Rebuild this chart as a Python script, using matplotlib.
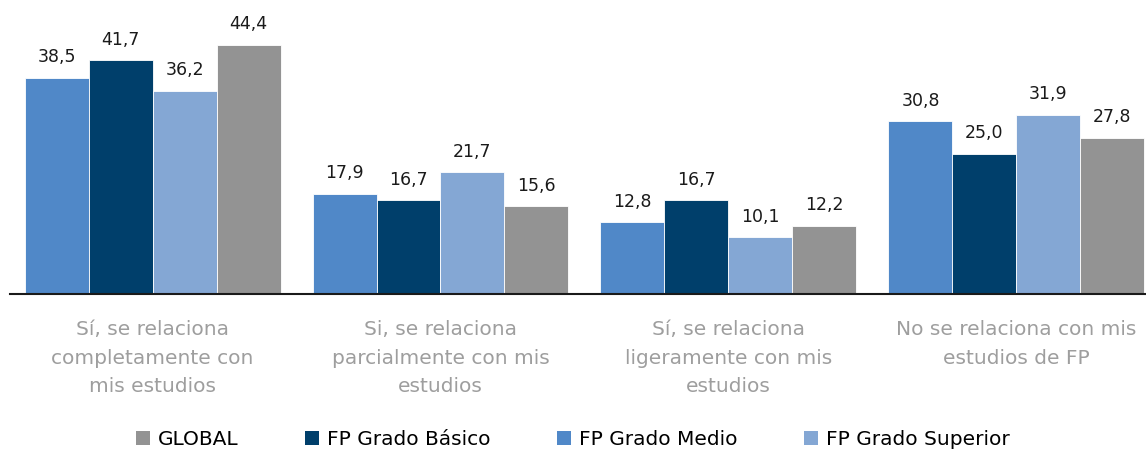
import matplotlib.pyplot as plt
import numpy as np
from matplotlib.patches import Patch

plt.rcParams['font.family'] = ['DejaVu Sans']

# Datos por categoría de relación con los estudios (%)
categorias = ['Sí, se relaciona\ncompletamente con\nmis estudios',
              'Si, se relaciona\nparcialmente con mis\nestudios',
              'Sí, se relaciona\nligeramente con mis\nestudios',
              'No se relaciona con mis\nestudios de FP']
fp_medio = [38.5, 17.9, 12.8, 30.8]
fp_basico = [41.7, 16.7, 16.7, 25.0]
fp_superior = [36.2, 21.7, 10.1, 31.9]
global_ = [44.4, 15.6, 12.2, 27.8]

series = [('FP Grado Medio', fp_medio, '#5088c8'),
          ('FP Grado Básico', fp_basico, '#003f6b'),
          ('FP Grado Superior', fp_superior, '#84a7d4'),
          ('GLOBAL', global_, '#939393')]

fig = plt.figure(figsize=(11.46, 4.49), dpi=100)
ax = fig.add_axes([10 / 1146, 155 / 449, 1 - 10 / 1146, 294 / 449])

x = np.arange(len(categorias))
w = 0.2222
for i, (nombre, vals, color) in enumerate(series):
    pos = x + (i - 1.5) * w
    bars = ax.bar(pos, vals, width=w, color=color, edgecolor='white', linewidth=0.6)
    for b, v in zip(bars, vals):
        ax.annotate(f'{v:.1f}'.replace('.', ','), (b.get_x() + b.get_width() / 2, v),
                    xytext=(0, 8.3), textcoords='offset points', ha='center', va='bottom',
                    fontsize=12.5, color='#1a1a1a')

ax.set_xlim(-0.495, 3.45)
ax.set_ylim(0, 52.4)
for s in ['top', 'right', 'left']:
    ax.spines[s].set_visible(False)
ax.spines['bottom'].set_color('#1a1a1a')
ax.spines['bottom'].set_linewidth(1.5)
ax.set_yticks([])
ax.set_xticks(x)
ax.set_xticklabels(categorias, fontsize=14.5, color='#9e9e9e', linespacing=1.62)
ax.tick_params(axis='x', length=0, pad=19)

# Leyenda en el orden de la figura
orden = [3, 1, 0, 2]
handles = [Patch(facecolor=series[i][2], label=series[i][0]) for i in orden]
fig.legend(handles=handles, loc='lower center', bbox_to_anchor=(0.5, -0.04), ncol=4,
           frameon=False, fontsize=14.5, handlelength=0.7, handleheight=0.7,
           handletextpad=0.4, columnspacing=3.3)

fig.savefig('out.png', dpi=100)
